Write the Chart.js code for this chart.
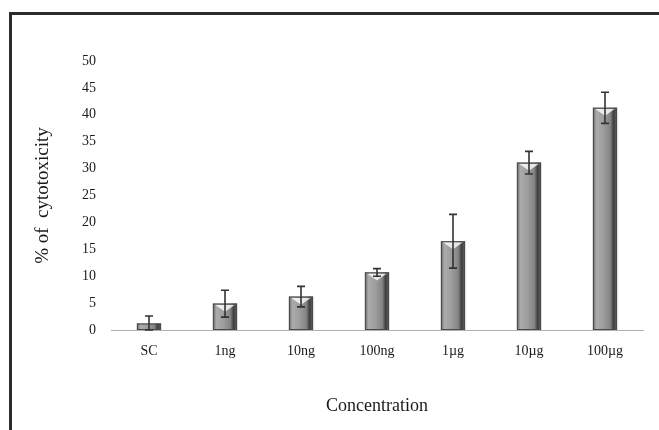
<!DOCTYPE html>
<html>
<head>
<meta charset="utf-8">
<script src="https://cdn.jsdelivr.net/npm/chart.js@4"></script>
<style>
  html,body{margin:0;padding:0;background:#fff;}
  #wrap{position:relative;width:659px;height:430px;overflow:hidden;}
  #frame{position:absolute;left:9px;top:12px;width:700px;height:500px;border-left:3px solid #2b2b2b;border-top:3px solid #2b2b2b;}
  canvas{position:absolute;left:0;top:0;}
</style>
</head>
<body>
<div id="wrap">
  <div id="frame"></div>
  <canvas id="c" width="659" height="430"></canvas>
</div>
<script>
var categories = ['SC','1ng','10ng','100ng','1\u00b5g','10\u00b5g','100\u00b5g'];
var cytotoxicity = [1.2, 4.9, 6.2, 10.7, 16.5, 31.1, 41.3];
var errors = [1.4, 2.5, 1.9, 0.7, 5.0, 2.1, 2.9];
var yTicks = [0,5,10,15,20,25,30,35,40,45,50];

var serif = '"Liberation Serif", "Times New Roman", serif';

// shading + error bars drawn over the bars the library laid out
var barLook = {
  id:'barLook',
  afterDatasetsDraw:function(chart){
    var c = chart.ctx, meta = chart.getDatasetMeta(0), y = chart.scales.y;
    meta.data.forEach(function(el, i){
      var l = el.x - el.width/2, r = el.x + el.width/2, t = el.y, b = el.base;
      var g = c.createLinearGradient(l,0,r,0);
      g.addColorStop(0,'#6e6e6e');
      g.addColorStop(0.15,'#acacac');
      g.addColorStop(0.45,'#9c9c9c');
      g.addColorStop(0.72,'#848484');
      g.addColorStop(0.86,'#3e3e3e');
      g.addColorStop(1,'#666');
      c.save();
      c.fillStyle = g;
      c.fillRect(l,t,r-l,b-t);
      // top bevel highlight
      if(b - t > 8){
        c.fillStyle = 'rgba(255,255,255,0.8)';
        c.beginPath();
        c.moveTo(l+2,t+1); c.lineTo(r-2,t+1); c.lineTo(el.x,t+Math.min(8,(b-t)/2)); c.closePath();
        c.fill();
      }
      c.strokeStyle = '#4a4a4a';
      c.lineWidth = 1;
      c.strokeRect(l+0.5,t+0.5,r-l-1,b-t-1);
      // error bar
      var hi = y.getPixelForValue(cytotoxicity[i]+errors[i]);
      var lo = y.getPixelForValue(Math.max(0,cytotoxicity[i]-errors[i]));
      c.strokeStyle = '#333';
      c.lineWidth = 1.6;
      c.beginPath();
      c.moveTo(el.x,hi); c.lineTo(el.x,lo);
      c.moveTo(el.x-4,hi); c.lineTo(el.x+4,hi);
      c.moveTo(el.x-4,lo); c.lineTo(el.x+4,lo);
      c.stroke();
      c.restore();
    });
  }
};

new Chart(document.getElementById('c'), {
  type:'bar',
  data:{ labels:categories, datasets:[
    {label:'% of cytotoxicity', data:cytotoxicity, backgroundColor:'#999', barThickness:24}
  ]},
  options:{
    responsive:false,
    animation:false,
    layout:{padding:{left:30,top:61,right:16,bottom:9}},
    plugins:{legend:{display:false},tooltip:{enabled:false}},
    scales:{
      x:{
        grid:{display:false},
        border:{display:true,color:'#b0b0b0',width:1},
        ticks:{color:'#1a1a1a',font:{family:serif,size:14},padding:5},
        title:{display:true,text:'Concentration',color:'#1a1a1a',font:{family:serif,size:18},padding:{top:4,bottom:4}},
        afterFit:function(s){ s.height = 91; }
      },
      y:{
        min:0,max:50,
        afterBuildTicks:function(s){ s.ticks = yTicks.map(function(v){ return {value:v}; }); },
        grid:{display:false},
        border:{display:false},
        ticks:{color:'#1a1a1a',font:{family:serif,size:14},padding:7},
        title:{display:true,text:'% of  cytotoxicity',color:'#1a1a1a',font:{family:serif,size:19},padding:{top:2,bottom:4}},
        afterFit:function(s){ s.width = 81; }
      }
    }
  },
  plugins:[barLook]
});
</script>
</body>
</html>
